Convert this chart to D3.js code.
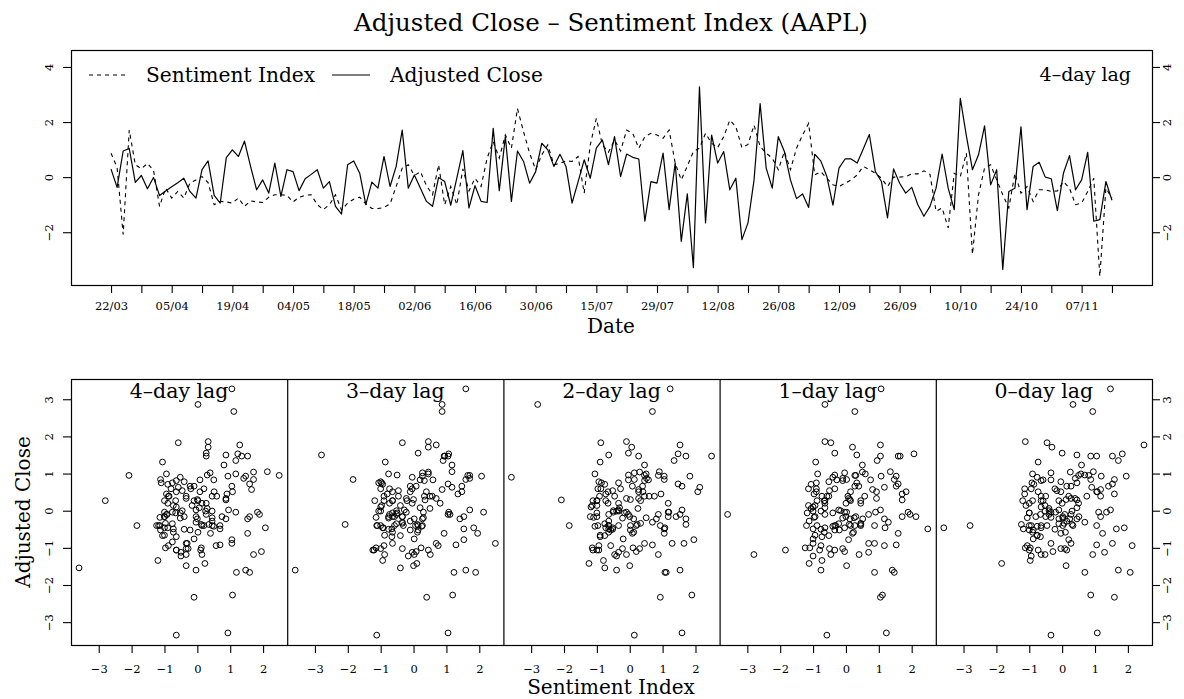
<!DOCTYPE html>
<html><head><meta charset="utf-8">
<script src="https://cdn.jsdelivr.net/npm/d3@7"></script>
<style>
body{margin:0;background:#fff}
svg{display:block}
text{font-family:"DejaVu Serif",serif;fill:#000}
</style>
</head><body>
<svg id="c" width="1184" height="699"></svg>
<script>
// ---------- data ----------
const dateLabels = ["22/03","05/04","19/04","04/05","18/05","02/06","16/06","30/06","15/07","29/07","12/08","26/08","12/09","26/09","10/10","24/10","07/11"];

const adjustedClose = [
 0.29,-0.37,0.95,1.04,-0.19,0.06,-0.42,-0.01,-0.67,-0.5,
 -0.35,-0.2,-0.04,-0.52,-0.76,0.27,0.59,-0.66,-0.94,0.71,
 0.99,0.75,1.31,0.39,-0.46,-0.1,-0.58,0.51,-0.7,0.27,
 0.2,-0.49,-0.06,0.1,0.27,-0.4,-0.16,-1.06,-1.34,0.45,
 0.59,0.14,-1.0,-0.18,-0.4,0.75,-0.34,0.39,1.71,-0.4,
 0.08,-0.4,-0.88,-1.06,-0.01,-0.16,-1.02,-0.04,0.96,-1.12,
 -0.31,-0.88,-0.92,1.77,-0.49,1.47,-0.88,0.95,0.57,-0.22,
 0.2,1.23,0.99,0.39,0.83,0.39,-0.94,-0.16,0.63,-0.04,
 1.05,1.35,0.45,1.47,0.02,0.84,0.72,0.66,-1.6,-0.16,
 -0.22,0.87,-1.18,0.51,-2.33,-0.61,-3.29,3.28,-1.66,1.53,
 0.51,0.93,-0.46,-0.04,-2.27,-1.66,-0.1,2.67,0.33,-0.4,
 1.47,0.93,-0.1,-0.78,-0.61,-1.1,0.83,0.59,0.02,-1.02,
 0.33,0.66,0.66,0.51,1.02,1.55,0.2,-0.16,-1.48,0.3,
 -0.22,-0.58,-0.37,-1.0,-1.42,-1.06,-0.4,0.84,-0.4,-1.18,
 2.86,1.5,0.27,0.81,1.86,-0.28,0.27,-3.35,-0.52,-0.4,
 1.83,-1.18,0.39,0.54,0.0,-0.06,-1.22,0.14,0.78,-0.46,
 -0.1,0.9,-1.6,-1.54,-0.16,-0.84
];

// sentiment index as plotted in the top panel (already 4 days lagged)
const sentimentIndex = [
 0.87,0.35,-2.08,1.71,0.45,0.3,0.5,0.25,-1.06,-0.4,
 -0.76,-0.52,-0.76,-0.22,-0.1,0.02,-0.2,-1.0,-0.88,-0.9,
 -0.94,-0.76,-1.06,-0.86,-0.9,-0.92,-0.73,-0.64,-0.64,-0.66,
 -0.9,-0.73,-0.66,-0.64,-1.0,-1.18,-1.0,-0.64,-1.2,-0.94,
 -0.8,-0.73,-0.97,-1.14,-1.14,-1.1,-0.97,-0.34,0.33,0.45,
 0.06,0.2,-0.31,-0.64,0.45,-1.0,-0.34,-1.0,0.3,-0.5,
 -0.04,-0.34,0.69,1.29,0.69,1.53,1.05,2.49,1.65,0.87,
 0.27,0.81,1.17,0.45,0.5,0.59,0.57,0.75,-0.58,1.17,
 2.13,1.17,0.9,1.35,0.95,1.71,1.59,1.05,1.47,1.59,
 1.53,1.41,1.71,0.51,-0.1,0.4,0.93,1.05,1.59,1.23,
 1.07,1.47,2.07,1.83,1.07,1.19,1.89,1.11,0.87,0.69,
 0.27,0.93,0.27,1.05,1.53,1.95,0.08,0.2,-0.04,-0.28,
 -0.34,-0.22,-0.1,0.08,0.39,0.27,0.14,-0.04,-0.34,0.0,
 0.0,0.02,0.12,0.12,0.23,0.1,-1.24,-1.12,-1.84,0.14,
 0.02,0.87,-2.8,-0.64,0.33,0.45,-0.1,-0.64,-1.12,0.14,
 -0.58,-0.34,-0.88,-0.46,-0.46,-0.52,-0.5,-0.16,-0.4,-1.0,
 -0.94,-0.52,-0.04,-3.6,-0.4,-0.76
];

const lags = [4,3,2,1,0];
const topYTicks = [-2,0,2,4];
const scatterYTicks = [-3,-2,-1,0,1,2,3];
const scatterXTicks = [-3,-2,-1,0,1,2];

// ---------- layout ----------
const svg = d3.select("#c");
const TOP = {l:71, r:1152, t:50, b:285};
const BOT = {l:71, r:1152, t:379, b:645};
const minus = s => String(s).replace("-", "\u2212");

// title
svg.append("text").attr("x", 611).attr("y", 31).attr("text-anchor","middle")
  .style("font-size","24.5px").text("Adjusted Close \u2013 Sentiment Index (AAPL)");

// ---------- top panel ----------
const n = adjustedClose.length;
const xPad = 0.04*(n-1);
const x = d3.scaleLinear().domain([-xPad, n-1+xPad]).range([TOP.l, TOP.r]);
const yMin = d3.min([d3.min(adjustedClose), d3.min(sentimentIndex)]);
const yMax = 4.3;
const yPad = 0.04*(yMax-yMin);
const y = d3.scaleLinear().domain([yMin-yPad, yMax+yPad]).range([TOP.b, TOP.t]);

const gTop = svg.append("g");
gTop.append("rect").attr("x",TOP.l+0.5).attr("y",TOP.t+0.5)
  .attr("width",TOP.r-TOP.l).attr("height",TOP.b-TOP.t)
  .attr("fill","none").attr("stroke","#000").attr("stroke-width",1.2);

const line = d3.line().x((d,i)=>x(i)).y(d=>y(d));
gTop.append("path").datum(sentimentIndex).attr("d",line)
  .attr("fill","none").attr("stroke","#000").attr("stroke-width",1.1)
  .attr("stroke-dasharray","4,4");
gTop.append("path").datum(adjustedClose).attr("d",line)
  .attr("fill","none").attr("stroke","#000").attr("stroke-width",1.2)
  .attr("stroke-linejoin","round");

// x axis (dates)
const tickIdx = d3.range(0, n, 5);
const xAxis = d3.axisBottom(x).tickValues(tickIdx).tickSize(8)
  .tickFormat(d => (d % 10 === 0 && dateLabels[d/10]) ? dateLabels[d/10] : "");
const gx = gTop.append("g").attr("transform",`translate(0,${TOP.b})`).call(xAxis);
gx.select(".domain").remove();
gx.selectAll(".tick line").attr("stroke","#000").attr("stroke-width",1.1);
gx.selectAll(".tick text").attr("y",25).attr("dy",null).style("font-size","11.5px").style("font-family",'"DejaVu Serif",serif');

// y axes (left and right)
function yAxisRot(g, axis, side){
  g.call(axis);
  g.select(".domain").remove();
  g.selectAll(".tick line").attr("stroke","#000").attr("stroke-width",1.1);
  g.selectAll(".tick text")
    .attr("x",null).attr("dy",null).attr("y",null)
    .attr("text-anchor","middle")
    .attr("transform", side==="left" ? "translate(-18,0) rotate(-90)" : "translate(19,0) rotate(-90)")
    .style("font-size","11.5px").style("font-family",'"DejaVu Serif",serif');
}
yAxisRot(gTop.append("g").attr("transform",`translate(${TOP.l},0)`),
  d3.axisLeft(y).tickValues(topYTicks).tickSize(8).tickFormat(minus),"left");
yAxisRot(gTop.append("g").attr("transform",`translate(${TOP.r},0)`),
  d3.axisRight(y).tickValues(topYTicks).tickSize(8).tickFormat(minus),"right");

// legend
const legY = 75;
gTop.append("line").attr("x1",89).attr("x2",125).attr("y1",legY).attr("y2",legY)
  .attr("stroke","#000").attr("stroke-width",1.1).attr("stroke-dasharray","4,4");
gTop.append("text").attr("x",146).attr("y",legY+7).style("font-size","20.2px").text("Sentiment Index");
gTop.append("line").attr("x1",332).attr("x2",370).attr("y1",legY).attr("y2",legY)
  .attr("stroke","#000").attr("stroke-width",1.2);
gTop.append("text").attr("x",390).attr("y",legY+7).style("font-size","20.2px").text("Adjusted Close");
gTop.append("text").attr("x",1131).attr("y",81).attr("text-anchor","end")
  .style("font-size","19px").text("4\u2013day lag");

svg.append("text").attr("x",611).attr("y",333).attr("text-anchor","middle")
  .style("font-size","20px").text("Date");

// ---------- scatter panels ----------
const ext = d3.extent(sentimentIndex);
const sPad = 0.04*(ext[1]-ext[0]);
const cext = d3.extent(adjustedClose);
const cPad = 0.04*(cext[1]-cext[0]);
const ys = d3.scaleLinear().domain([cext[0]-cPad, cext[1]+cPad]).range([BOT.b, BOT.t]);
const panelW = (BOT.r-BOT.l)/lags.length;

lags.forEach((lag,p) => {
  const x0 = BOT.l + p*panelW;
  const xs = d3.scaleLinear().domain([ext[0]-sPad, ext[1]+sPad]).range([x0, x0+panelW]);
  const shift = 4 - lag;
  const pts = [];
  for (let i=0; i+shift<n; i++) pts.push([sentimentIndex[i+shift], adjustedClose[i]]);
  const g = svg.append("g");
  g.selectAll("circle").data(pts).join("circle")
    .attr("cx",d=>xs(d[0])).attr("cy",d=>ys(d[1])).attr("r",2.9)
    .attr("fill","none").attr("stroke","#000").attr("stroke-width",1);
  const ax = d3.axisBottom(xs).tickValues(scatterXTicks).tickSize(8).tickFormat(minus);
  const gax = g.append("g").attr("transform",`translate(0,${BOT.b})`).call(ax);
  gax.select(".domain").remove();
  gax.selectAll(".tick line").attr("stroke","#000").attr("stroke-width",1.1);
  gax.selectAll(".tick text").attr("y",28).attr("dy",null).style("font-size","11.5px").style("font-family",'"DejaVu Serif",serif');
  g.append("text").attr("x",x0+panelW/2).attr("y",BOT.t+19).attr("text-anchor","middle")
    .style("font-size","20.5px").text(lag + "\u2013day lag");
  if (p>0) g.append("line").attr("x1",x0+0.5).attr("x2",x0+0.5).attr("y1",BOT.t).attr("y2",BOT.b)
    .attr("stroke","#000").attr("stroke-width",1.2);
});

svg.append("rect").attr("x",BOT.l+0.5).attr("y",BOT.t+0.5)
  .attr("width",BOT.r-BOT.l).attr("height",BOT.b-BOT.t)
  .attr("fill","none").attr("stroke","#000").attr("stroke-width",1.2);

yAxisRot(svg.append("g").attr("transform",`translate(${BOT.l},0)`),
  d3.axisLeft(ys).tickValues(scatterYTicks).tickSize(8).tickFormat(minus),"left");
yAxisRot(svg.append("g").attr("transform",`translate(${BOT.r},0)`),
  d3.axisRight(ys).tickValues(scatterYTicks).tickSize(8).tickFormat(minus),"right");

svg.append("text").attr("x",611).attr("y",694).attr("text-anchor","middle")
  .style("font-size","20px").text("Sentiment Index");
svg.append("text").attr("transform","translate(30,512) rotate(-90)").attr("text-anchor","middle")
  .style("font-size","20px").text("Adjusted Close");
</script>
</body></html>
